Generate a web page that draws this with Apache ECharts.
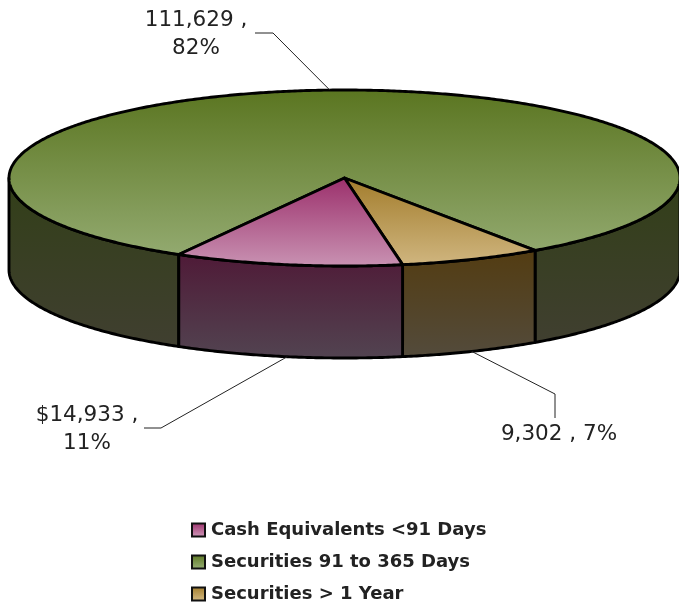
<!DOCTYPE html>
<html><head><meta charset="utf-8">
<style>html,body{margin:0;padding:0;background:#fff}#c{width:679px;height:605px}</style>
<script src="https://cdn.jsdelivr.net/npm/echarts@6/dist/echarts.min.js"></script>
</head><body><div id="c"></div>
<script>
const categories = ['Securities 91 to 365 Days', 'Securities > 1 Year', 'Cash Equivalents <91 Days'];
const values = [111629, 9302, 14933];
const legendOrder = ['Cash Equivalents <91 Days', 'Securities 91 to 365 Days', 'Securities > 1 Year'];
const labelLines = [['111,629 ,', '82%'], ['9,302 , 7%'], ['$14,933 ,', '11%']];

// styling / layout
const topColors = [['#5a7520', '#93aa70'], ['#a27c2b', '#d0b680'], ['#9b2f6b', '#c993b3']];
const sideColors = [['#323f18', '#403f30'], ['#533c11', '#534b3c'], ['#4f1a37', '#524451']];
const legendColors = [['#9b2f6b', '#d29ebd'], ['#5a7520', '#9ab27a'], ['#a27c2b', '#d6bd88']];
const labelPos = [[196, 34], [559, 434], [87, 429]];
const leaderBend = [[[273, 33], [255, 33]], [[555, 394], [555, 418]], [[161, 428], [144, 428]]];
const cx = 344.5, cy = 178, rx = 335.5, ry = 88, depth = 92;

const total = values.reduce((a, b) => a + b, 0);
// clockwise from the top of the pie; the first slice starts just under 210 degrees
const firstStart = 209.6;
const starts = [];
values.reduce((acc, v, i) => { starts[i] = acc; return acc + v / total * 360; }, firstStart);

const pt = (a, dy) => {
  const r = a * Math.PI / 180;
  return [cx + rx * Math.sin(r), cy - ry * Math.cos(r) + (dy || 0)];
};
const arc = (a, b, dy) => {
  const out = [];
  const n = Math.max(2, Math.ceil(Math.abs(b - a) / 0.5));
  for (let i = 0; i <= n; i++) out.push(pt(a + (b - a) * i / n, dy));
  return out;
};
const grad = c => new echarts.graphic.LinearGradient(0, 0, 0, 1, [{offset: 0, color: c[0]}, {offset: 1, color: c[1]}]);
const edge = {stroke: '#000', lineWidth: 2.9, lineJoin: 'round'};

function renderSlice(i) {
  return function (params, api) {
    const span = api.value(0) / total * 360;
    const a = starts[i], b = a + span, kids = [];
    for (let k = 0; k < 2; k++) {
      const lo = Math.max(a, 90 + 360 * k), hi = Math.min(b, 270 + 360 * k);
      if (hi > lo) {
        kids.push({type: 'polygon',
          shape: {points: arc(lo, hi, 0).concat(arc(hi, lo, depth))},
          style: Object.assign({fill: grad(sideColors[i])}, edge)});
      }
    }
    kids.push({type: 'polygon',
      shape: {points: [[cx, cy]].concat(arc(a, b, 0))},
      style: Object.assign({fill: grad(topColors[i])}, edge)});
    // leader line from the slice's outer edge
    const mid = (a + b) / 2, m = ((mid % 360) + 360) % 360;
    const anchor = pt(mid, m > 90 && m < 270 ? depth : 0);
    kids.push({type: 'polyline', shape: {points: [anchor].concat(leaderBend[i])},
      style: {stroke: '#222', lineWidth: 1, fill: null}});
    kids.push({type: 'text', style: {
      x: labelPos[i][0], y: labelPos[i][1], text: labelLines[i].join('\n'),
      font: '21.5px "DejaVu Sans"', fill: '#222', align: 'center', verticalAlign: 'middle', lineHeight: 28
    }});
    return {type: 'group', children: kids};
  };
}

const chart = echarts.init(document.getElementById('c'), null, {renderer: 'canvas'});
chart.setOption({
  animation: false,
  legend: {
    data: legendOrder, orient: 'vertical', left: 186, top: 516, height: 100, itemWidth: 13, itemHeight: 13, itemGap: 14,
    icon: 'rect', selectedMode: false,
    textStyle: {fontFamily: 'DejaVu Sans', fontWeight: 'bold', fontSize: 18, color: '#222', padding: [0, 0, 0, 1]}
  },
  series: categories.map((name, i) => ({
    type: 'custom', name, coordinateSystem: 'none', silent: true,
    renderItem: renderSlice(i),
    itemStyle: {color: grad(legendColors[legendOrder.indexOf(name)]), borderColor: '#111', borderWidth: 1.5},
    z: i + 2,
    data: [{name, value: [values[i]]}]
  }))
});
</script></body></html>
